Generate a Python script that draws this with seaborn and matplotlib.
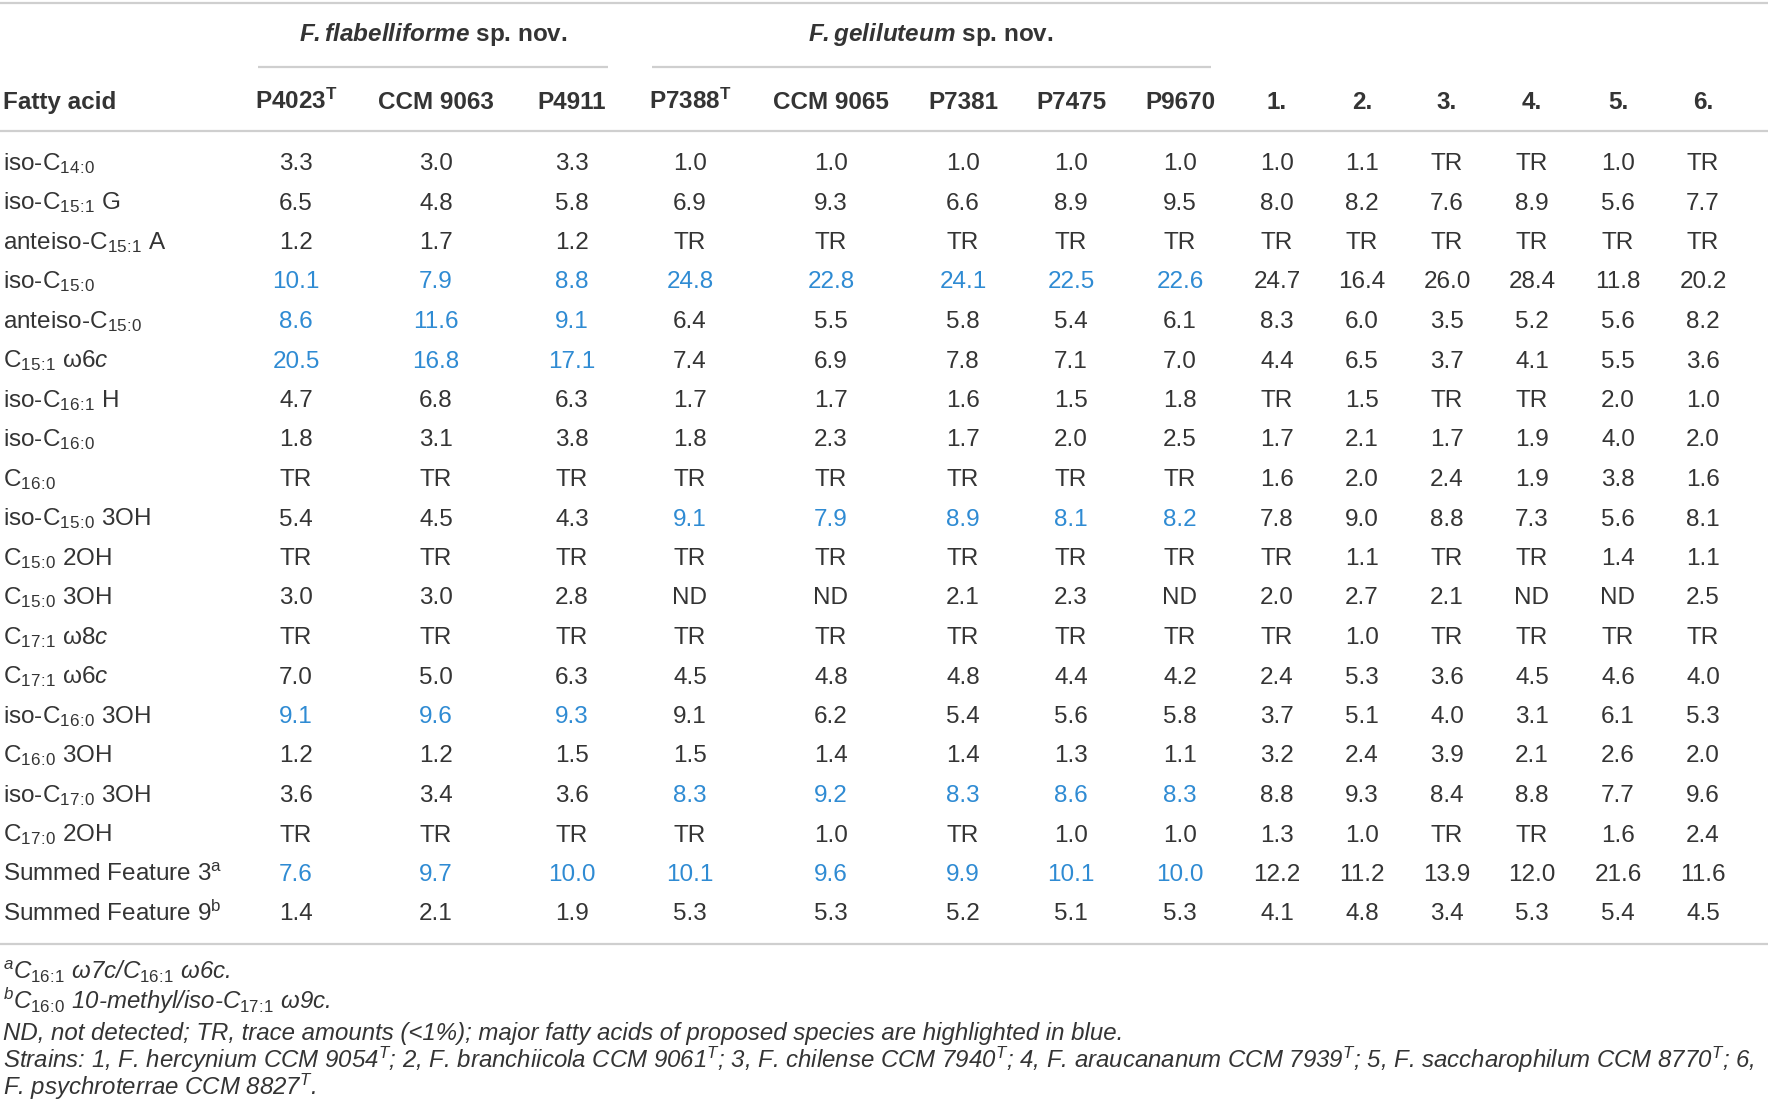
import numpy as np
import pandas as pd
import matplotlib
matplotlib.use("Agg")
import matplotlib.pyplot as plt
import seaborn as sns

# row labels (fatty acids)
fatty_acids = [
    r"iso-C$_{14\!:\!0}$", r"iso-C$_{15\!:\!1}$ G", r"anteiso-C$_{15\!:\!1}$ A", r"iso-C$_{15\!:\!0}$",
    r"anteiso-C$_{15\!:\!0}$", r"C$_{15\!:\!1}$ ω$\mathit{6c}$", r"iso-C$_{16\!:\!1}$ H",
    r"iso-C$_{16\!:\!0}$", r"C$_{16\!:\!0}$", r"iso-C$_{15\!:\!0}$ 3OH", r"C$_{15\!:\!0}$ 2OH",
    r"C$_{15\!:\!0}$ 3OH", r"C$_{17\!:\!1}$ ω$\mathit{8c}$", r"C$_{17\!:\!1}$ ω$\mathit{6c}$",
    r"iso-C$_{16\!:\!0}$ 3OH", r"C$_{16\!:\!0}$ 3OH", r"iso-C$_{17\!:\!0}$ 3OH", r"C$_{17\!:\!0}$ 2OH",
    r"Summed Feature 3$^{\mathrm{a}}$", r"Summed Feature 9$^{\mathrm{b}}$",
]

# column headers
strains = [r"P4023$^{\mathbf{T}}$", "CCM 9063", "P4911", r"P7388$^{\mathbf{T}}$", "CCM 9065",
           "P7381", "P7475", "P9670", "1.", "2.", "3.", "4.", "5.", "6."]

# values per strain (TR = trace, ND = not detected)
p4023 = ["3.3", "6.5", "1.2", "10.1", "8.6", "20.5", "4.7", "1.8", "TR", "5.4",
         "TR", "3.0", "TR", "7.0", "9.1", "1.2", "3.6", "TR", "7.6", "1.4"]
ccm9063 = ["3.0", "4.8", "1.7", "7.9", "11.6", "16.8", "6.8", "3.1", "TR", "4.5",
           "TR", "3.0", "TR", "5.0", "9.6", "1.2", "3.4", "TR", "9.7", "2.1"]
p4911 = ["3.3", "5.8", "1.2", "8.8", "9.1", "17.1", "6.3", "3.8", "TR", "4.3",
         "TR", "2.8", "TR", "6.3", "9.3", "1.5", "3.6", "TR", "10.0", "1.9"]
p7388 = ["1.0", "6.9", "TR", "24.8", "6.4", "7.4", "1.7", "1.8", "TR", "9.1",
         "TR", "ND", "TR", "4.5", "9.1", "1.5", "8.3", "TR", "10.1", "5.3"]
ccm9065 = ["1.0", "9.3", "TR", "22.8", "5.5", "6.9", "1.7", "2.3", "TR", "7.9",
           "TR", "ND", "TR", "4.8", "6.2", "1.4", "9.2", "1.0", "9.6", "5.3"]
p7381 = ["1.0", "6.6", "TR", "24.1", "5.8", "7.8", "1.6", "1.7", "TR", "8.9",
         "TR", "2.1", "TR", "4.8", "5.4", "1.4", "8.3", "TR", "9.9", "5.2"]
p7475 = ["1.0", "8.9", "TR", "22.5", "5.4", "7.1", "1.5", "2.0", "TR", "8.1",
         "TR", "2.3", "TR", "4.4", "5.6", "1.3", "8.6", "1.0", "10.1", "5.1"]
p9670 = ["1.0", "9.5", "TR", "22.6", "6.1", "7.0", "1.8", "2.5", "TR", "8.2",
         "TR", "ND", "TR", "4.2", "5.8", "1.1", "8.3", "1.0", "10.0", "5.3"]
ref1 = ["1.0", "8.0", "TR", "24.7", "8.3", "4.4", "TR", "1.7", "1.6", "7.8",
        "TR", "2.0", "TR", "2.4", "3.7", "3.2", "8.8", "1.3", "12.2", "4.1"]
ref2 = ["1.1", "8.2", "TR", "16.4", "6.0", "6.5", "1.5", "2.1", "2.0", "9.0",
        "1.1", "2.7", "1.0", "5.3", "5.1", "2.4", "9.3", "1.0", "11.2", "4.8"]
ref3 = ["TR", "7.6", "TR", "26.0", "3.5", "3.7", "TR", "1.7", "2.4", "8.8",
        "TR", "2.1", "TR", "3.6", "4.0", "3.9", "8.4", "TR", "13.9", "3.4"]
ref4 = ["TR", "8.9", "TR", "28.4", "5.2", "4.1", "TR", "1.9", "1.9", "7.3",
        "TR", "ND", "TR", "4.5", "3.1", "2.1", "8.8", "TR", "12.0", "5.3"]
ref5 = ["1.0", "5.6", "TR", "11.8", "5.6", "5.5", "2.0", "4.0", "3.8", "5.6",
        "1.4", "ND", "TR", "4.6", "6.1", "2.6", "7.7", "1.6", "21.6", "5.4"]
ref6 = ["TR", "7.7", "TR", "20.2", "8.2", "3.6", "1.0", "2.0", "1.6", "8.1",
        "1.1", "2.5", "TR", "4.0", "5.3", "2.0", "9.6", "2.4", "11.6", "4.5"]

# major fatty acids (row numbers) of the two proposed species
major_flabelliforme = [3, 4, 5, 14, 18]
major_geliluteum = [3, 9, 16, 18]

groups = [r"$\mathbfit{F.flabelliforme}$ sp. nov.", r"$\mathbfit{F.geliluteum}$ sp. nov."]

footnotes = [
    r"$^{\mathit{a}}\mathit{C}_{\mathit{16\!:\!1}}$ ω7c/$\mathit{C}_{\mathit{16\!:\!1}}$ ω6c.",
    r"$^{\mathit{b}}\mathit{C}_{\mathit{16\!:\!0}}$ 10-methyl/iso-$\mathit{C}_{\mathit{17\!:\!1}}$ ω9c.",
    "ND, not detected; TR, trace amounts (<1%); major fatty acids of proposed species are highlighted in blue.",
    r"Strains: 1, F. hercynium CCM 9054$^{\mathit{T}}$; 2, F. branchiicola CCM 9061$^{\mathit{T}}$; "
    r"3, F. chilense CCM 7940$^{\mathit{T}}$; 4, F. araucananum CCM 7939$^{\mathit{T}}$; "
    r"5, F. saccharophilum CCM 8770$^{\mathit{T}}$; 6,",
    r"F. psychroterrae CCM 8827$^{\mathit{T}}$.",
]

df = pd.DataFrame(
    {s: col for s, col in zip(strains, [p4023, ccm9063, p4911, p7388, ccm9065, p7381, p7475,
                                        p9670, ref1, ref2, ref3, ref4, ref5, ref6])},
    index=fatty_acids)

# ---- style ----
sns.set_theme(style="white")
plt.rcParams['font.family'] = ['Liberation Sans', 'DejaVu Sans']
plt.rcParams['mathtext.fontset'] = 'custom'
plt.rcParams['mathtext.rm'] = 'Liberation Sans'
plt.rcParams['mathtext.it'] = 'Liberation Sans:italic'
plt.rcParams['mathtext.bf'] = 'Liberation Sans:bold'
plt.rcParams['mathtext.bfit'] = 'Liberation Sans:italic:bold'

TXT = '#343434'
BLUE = '#2f8bd3'
RULE = '#cfcfcf'
FS = 17.5

# layout (pixel coordinates of the 1772x1110 canvas)
col_x = [296, 436, 572, 690, 831, 963, 1071, 1180, 1277, 1362, 1447, 1532, 1618, 1703]
row_y0, row_dy = 162, 39.5
base = 8  # baseline offset from row centre

fig = plt.figure(figsize=(17.72, 11.10), dpi=100)
ax = fig.add_axes([0, 0, 1, 1])
ax.set_xlim(0, 1772)
ax.set_ylim(1110, 0)
ax.axis('off')

# rules
ax.hlines([3, 131, 944], 0, 1768, color=RULE, lw=1.6)
ax.hlines([67, 67], [258, 652], [608, 1211], color=RULE, lw=1.6)

# group titles
ax.text(433, 33 + base, groups[0], ha='center', va='baseline', fontsize=FS,
        fontweight='bold', color=TXT)
ax.text(931, 33 + base, groups[1], ha='center', va='baseline', fontsize=FS,
        fontweight='bold', color=TXT)

# header row
ax.text(3, 101 + base, "Fatty acid", ha='left', va='baseline', fontsize=FS,
        fontweight='bold', color=TXT)
for x, s in zip(col_x, df.columns):
    ax.text(x, 101 + base, s, ha='center', va='baseline', fontsize=FS,
            fontweight='bold', color=TXT)

# body
for i, acid in enumerate(df.index):
    y = row_y0 + i * row_dy + base
    ax.text(3, y, acid, ha='left', va='baseline', fontsize=FS, color=TXT)
    for j, (x, s) in enumerate(zip(col_x, df.columns)):
        c = TXT
        if j < 3 and i in major_flabelliforme:
            c = BLUE
        if 3 <= j < 8 and i in major_geliluteum:
            c = BLUE
        ax.text(x, y, df.loc[acid, s], ha='center', va='baseline', fontsize=FS, color=c)

# footnotes
foot_y = [972, 1002, 1033, 1061, 1088]
for y, t in zip(foot_y, footnotes):
    ax.text(3, y + 7, t, ha='left', va='baseline', fontsize=17.3, fontstyle='italic', color=TXT)

fig.savefig("out.png", dpi=100, facecolor='white')
